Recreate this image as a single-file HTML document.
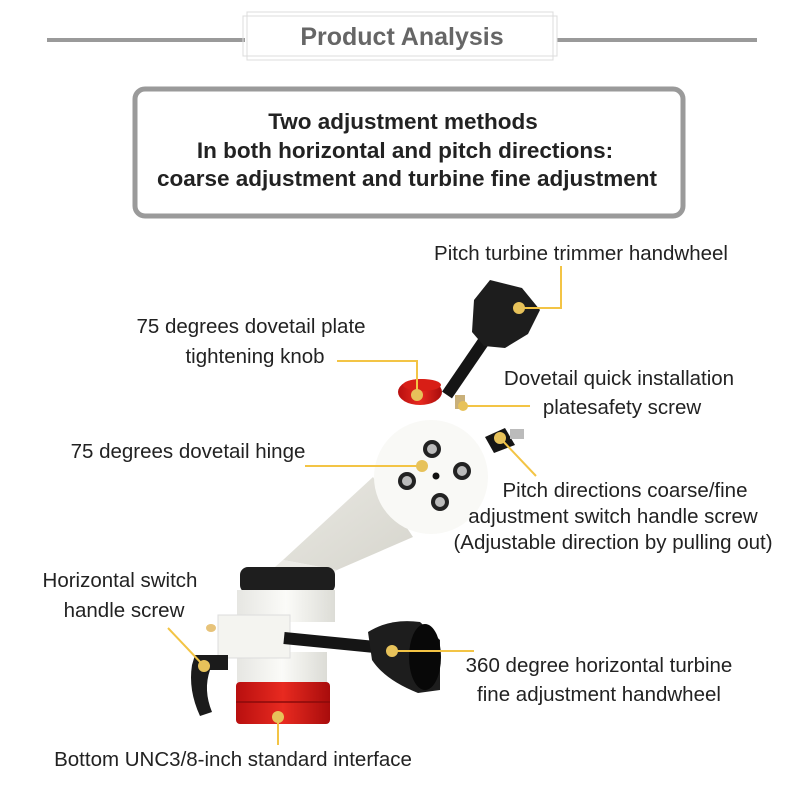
<!DOCTYPE html>
<html><head><meta charset="utf-8"><style>
html,body{margin:0;padding:0;background:#fff;}
svg{display:block;}
text{font-family:"Liberation Sans",sans-serif;}
</style></head><body>
<svg width="800" height="800" viewBox="0 0 800 800" xmlns="http://www.w3.org/2000/svg">
<defs>
<linearGradient id="red" x1="0" x2="1"><stop offset="0" stop-color="#b80f0f"/><stop offset="0.5" stop-color="#e82a20"/><stop offset="1" stop-color="#a80c0c"/></linearGradient>
<linearGradient id="wh" x1="0" x2="1"><stop offset="0" stop-color="#e6e6e2"/><stop offset="0.5" stop-color="#fbfbf8"/><stop offset="1" stop-color="#dcdcd6"/></linearGradient>
<linearGradient id="arm" x1="0" y1="0" x2="1" y2="1"><stop offset="0" stop-color="#e9e8e2"/><stop offset="1" stop-color="#d6d5cd"/></linearGradient>
</defs>
<rect width="800" height="800" fill="#fff"/>
<!-- header -->
<rect x="47" y="38" width="198" height="4" fill="#9a9a9a"/>
<rect x="557" y="38" width="200" height="4" fill="#9a9a9a"/>
<rect x="247" y="12" width="306" height="48" fill="none" stroke="#dcdcdc" stroke-width="1"/>
<rect x="243" y="16" width="314" height="40" fill="none" stroke="#dcdcdc" stroke-width="1"/>
<text x="402" y="45" font-size="25" font-weight="bold" fill="#666" text-anchor="middle">Product Analysis</text>
<rect x="135" y="89" width="548" height="127" rx="10" fill="#fff" stroke="#9a9a9a" stroke-width="5"/>
<g font-size="22.5" font-weight="bold" fill="#222" text-anchor="middle">
<text x="403" y="129">Two adjustment methods</text>
<text x="405" y="158">In both horizontal and pitch directions:</text>
<text x="407" y="186">coarse adjustment and turbine fine adjustment</text>
</g>
<!-- product -->
<polygon points="373,477 413,537 337,570 283,560" fill="url(#arm)"/>
<polygon points="283,560 337,570 320,585 260,580" fill="#ecebe6"/>
<rect x="240" y="567" width="95" height="26" rx="8" fill="#1e1e1e"/>
<rect x="237" y="590" width="98" height="32" fill="url(#wh)"/>
<rect x="237" y="652" width="90" height="32" fill="url(#wh)"/>
<rect x="236" y="682" width="94" height="42" rx="4" fill="url(#red)"/>
<line x1="236" y1="702" x2="330" y2="702" stroke="#8a0a0a" stroke-width="1.5"/>
<rect x="218" y="615" width="72" height="43" fill="#f4f4f0" stroke="#ddd"/>
<ellipse cx="211" cy="628" rx="5" ry="4" fill="#e7c37a"/>
<path d="M195,655 L228,655 L228,670 L210,670 Q203,690 212,712 L200,716 Q188,690 192,665 Z" fill="#1b1b1b"/>
<line x1="284" y1="638" x2="385" y2="648" stroke="#151515" stroke-width="12"/>
<path d="M368,632 Q390,618 420,622 L440,640 L440,690 L418,693 Q385,680 372,660 Z" fill="#1d1d1d"/>
<ellipse cx="425" cy="657" rx="16" ry="33" fill="#080808"/>
<!-- disc -->
<circle cx="431" cy="477" r="57" fill="#f9f9f6"/>
<circle cx="432" cy="449" r="9" fill="#222"/><circle cx="432" cy="449" r="5" fill="#bbb"/>
<circle cx="407" cy="481" r="9" fill="#222"/><circle cx="407" cy="481" r="5" fill="#bbb"/>
<circle cx="462" cy="471" r="9" fill="#222"/><circle cx="462" cy="471" r="5" fill="#bbb"/>
<circle cx="440" cy="502" r="9" fill="#222"/><circle cx="440" cy="502" r="5" fill="#bbb"/>
<circle cx="436" cy="476" r="3.5" fill="#111"/>
<polygon points="485,437 505,428 515,445 494,453" fill="#151515"/>
<rect x="510" y="429" width="14" height="10" fill="#bbb"/>
<!-- pitch handwheel -->
<line x1="447" y1="395" x2="488" y2="335" stroke="#151515" stroke-width="12"/>
<polygon points="490,280 522,288 540,310 528,334 505,348 484,346 472,332 474,300" fill="#1d1d1d"/>
<rect x="455" y="395" width="10" height="14" fill="#c9b07a"/>
<ellipse cx="420" cy="392" rx="22" ry="13" fill="url(#red)"/>
<ellipse cx="422" cy="385" rx="19" ry="6" fill="#d81e16"/>
<!-- leader lines -->
<g stroke="#f3c445" stroke-width="2" fill="none">
<polyline points="561,266 561,308 519,308"/>
<polyline points="337,361 417,361 417,395"/>
<line x1="530" y1="406" x2="463" y2="406"/>
<line x1="305" y1="466" x2="422" y2="466"/>
<line x1="536" y1="476" x2="500" y2="438"/>
<line x1="168" y1="628" x2="204" y2="666"/>
<line x1="474" y1="651" x2="392" y2="651"/>
<line x1="278" y1="718" x2="278" y2="745"/>
</g>
<g fill="#e7c25a">
<circle cx="519" cy="308" r="6"/><circle cx="417" cy="395" r="6"/><circle cx="463" cy="406" r="5"/>
<circle cx="422" cy="466" r="6"/><circle cx="500" cy="438" r="6"/><circle cx="204" cy="666" r="6"/>
<circle cx="392" cy="651" r="6"/><circle cx="278" cy="717" r="6"/>
</g>
<!-- labels -->
<g font-size="20.5" fill="#222" text-anchor="middle">
<text x="581" y="260">Pitch turbine trimmer handwheel</text>
<text x="251" y="333">75 degrees dovetail plate</text>
<text x="255" y="363">tightening knob</text>
<text x="619" y="385">Dovetail quick installation</text>
<text x="622" y="414">platesafety screw</text>
<text x="188" y="458">75 degrees dovetail hinge</text>
<text x="625" y="497">Pitch directions coarse/fine</text>
<text x="613" y="523">adjustment switch handle screw</text>
<text x="613" y="549">(Adjustable direction by pulling out)</text>
<text x="120" y="587">Horizontal switch</text>
<text x="124" y="617">handle screw</text>
<text x="599" y="672">360 degree horizontal turbine</text>
<text x="599" y="701">fine adjustment handwheel</text>
<text x="233" y="766">Bottom UNC3/8-inch standard interface</text>
</g>
</svg>
</body></html>
